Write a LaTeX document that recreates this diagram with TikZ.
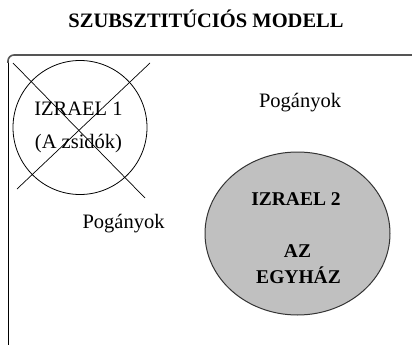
\documentclass[tikz,border=0pt]{standalone}
\usepackage{fontspec}
\setmainfont{Liberation Serif}
\usetikzlibrary{shapes.geometric}
\definecolor{framegray}{HTML}{555555}
\definecolor{fillgray}{HTML}{C0C0C0}
\tikzset{
  plain/.style={font=\fontsize{20.5}{23}\selectfont, anchor=base, inner sep=0pt},
  boldtxt/.style={font=\fontsize{19.5}{22}\selectfont\bfseries, anchor=base, inner sep=0pt},
  titletxt/.style={font=\fontsize{20.5}{22}\selectfont\bfseries, anchor=base, inner sep=0pt},
  oldcircle/.style={circle, draw=black, line width=0.8pt, minimum size=134pt, inner sep=0pt},
  newcircle/.style={ellipse, draw=black!80, fill=fillgray, line width=1pt, minimum width=185pt, minimum height=163pt, inner sep=0pt},
  crossline/.style={draw=black, line width=0.7pt},
  frametop/.style={draw=framegray, line width=1.6pt},
  frameleft/.style={draw=black, line width=1pt}
}
\begin{document}
\begin{tikzpicture}[x=1pt,y=-1pt]
\useasboundingbox (0,0) rectangle (412,345);
% title
\node[titletxt] (title) at (206,28) {SZUBSZTITÚCIÓS MODELL};
% frame
\coordinate (fr1) at (412,55);
\coordinate (fr2) at (8,55);
\coordinate (fr3) at (8,63);
\coordinate (fr4) at (8,345);
\draw[frametop, rounded corners=6pt] (fr1) -- (fr2) -- (fr3);
\draw[frameleft] (fr3) -- (fr4);
% Israel 1 (crossed out)
\node[oldcircle] (c1) at (80,127.5) {};
\node[plain] (i1) at (78.5,115) {IZRAEL 1};
\node[plain] (i1b) at (78.5,148) {(A zsidók)};
\coordinate (xa1) at (13,63);
\coordinate (xa2) at (145,198);
\coordinate (xb1) at (150,63);
\coordinate (xb2) at (17,189);
\draw[crossline] (xa1) -- (xa2);
\draw[crossline] (xb1) -- (xb2);
% pagans
\node[plain] (p1) at (300,107) {Pogányok};
\node[plain] (p2) at (123.5,228) {Pogányok};
% Israel 2
\node[newcircle] (c2) at (297.5,233.5) {};
\node[boldtxt] (i2) at (296,205) {IZRAEL 2};
\node[boldtxt] (az) at (297.5,257) {AZ};
\node[boldtxt] (egy) at (298.5,283) {EGYHÁZ};
\end{tikzpicture}
\end{document}
